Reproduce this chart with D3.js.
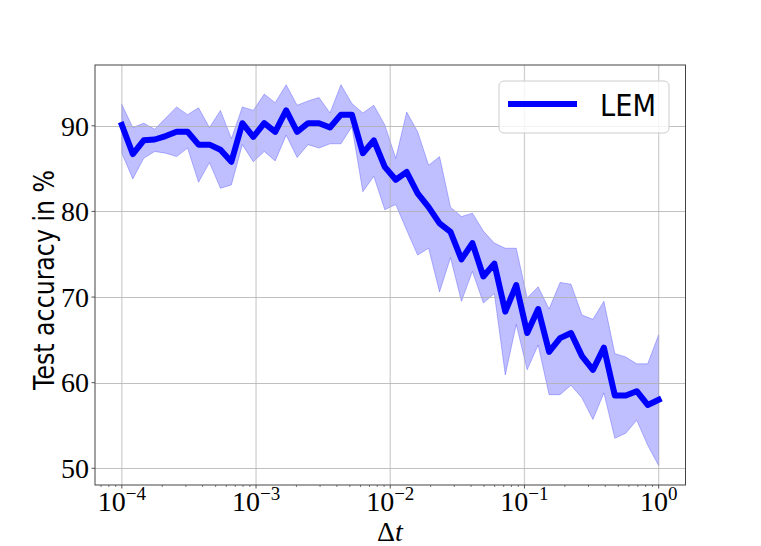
<!DOCTYPE html>
<html>
<head>
<meta charset="utf-8">
<script src="https://cdn.jsdelivr.net/npm/d3@7"></script>
<style>
  html, body { margin: 0; padding: 0; background: #fff; }
  svg { display: block; }
</style>
</head>
<body>
<svg id="chart" width="761" height="546"></svg>
<script>
// ---- data ----
const dt = [1.000e-4, 1.207e-4, 1.456e-4, 1.758e-4, 2.121e-4, 2.560e-4, 3.089e-4, 3.728e-4, 4.498e-4, 5.429e-4,
            6.551e-4, 7.906e-4, 9.541e-4, 1.151e-3, 1.389e-3, 1.677e-3, 2.024e-3, 2.442e-3, 2.947e-3, 3.556e-3,
            4.292e-3, 5.179e-3, 6.251e-3, 7.543e-3, 9.103e-3, 1.099e-2, 1.326e-2, 1.600e-2, 1.931e-2, 2.330e-2,
            2.812e-2, 3.393e-2, 4.095e-2, 4.942e-2, 5.964e-2, 7.197e-2, 8.685e-2, 1.048e-1, 1.265e-1, 1.526e-1,
            1.842e-1, 2.223e-1, 2.683e-1, 3.237e-1, 3.907e-1, 4.715e-1, 5.690e-1, 6.866e-1, 8.286e-1, 1.000];
const meanAcc = [90.1, 86.7, 88.3, 88.4, 88.8, 89.3, 89.3, 87.8, 87.8, 87.2,
                 85.8, 90.3, 88.7, 90.3, 89.3, 91.8, 89.3, 90.3, 90.3, 89.8,
                 91.3, 91.3, 86.8, 88.3, 85.2, 83.7, 84.6, 82.1, 80.5, 78.6,
                 77.6, 74.4, 76.3, 72.4, 73.9, 68.3, 71.4, 65.8, 68.6, 63.6,
                 65.2, 65.8, 63.1, 61.5, 64.1, 58.5, 58.5, 59.0, 57.4, 58.0];
const upperAcc = [92.5, 89.8, 90.3, 89.6, 90.9, 92.2, 91.3, 92.1, 89.8, 91.8,
                  88.5, 92.2, 91.8, 93.7, 92.7, 94.8, 92.4, 92.9, 93.3, 91.5,
                  94.8, 92.6, 91.5, 92.4, 90.1, 86.2, 91.6, 89.3, 85.4, 86.4,
                  80.5, 79.4, 79.8, 77.7, 76.3, 75.7, 75.7, 69.9, 71.2, 68.6,
                  71.7, 71.5, 67.9, 67.4, 69.5, 63.4, 63.0, 62.2, 62.2, 65.6];
const lowerAcc = [86.8, 83.8, 86.2, 87.0, 86.8, 86.4, 87.4, 83.4, 85.7, 82.7,
                  83.1, 87.8, 85.8, 87.0, 85.9, 88.9, 86.3, 87.8, 87.4, 87.9,
                  87.9, 89.9, 82.3, 84.1, 80.2, 80.8, 77.8, 74.9, 75.7, 70.6,
                  74.6, 69.5, 73.0, 69.3, 70.4, 60.9, 66.8, 61.5, 64.4, 58.6,
                  58.6, 59.7, 58.2, 55.7, 58.8, 53.5, 54.1, 55.6, 52.7, 50.3];
const xTicks = [1e-4, 1e-3, 1e-2, 1e-1, 1];
const xTickExp = ["\u22124", "\u22123", "\u22122", "\u22121", "0"];
const yTicks = [50, 60, 70, 80, 90];
const seriesName = "LEM";

// ---- layout ----
const L = 95, R = 685.5, T = 65, B = 485;
const svg = d3.select("#chart");
const x = d3.scaleLog().domain([Math.pow(10, -4.2), Math.pow(10, 0.2)]).range([L, R]);
const y = d3.scaleLinear().domain([48.05, 97.1]).range([B, T]);

const serif = "'Liberation Serif', 'DejaVu Serif', serif";
const sans = "'DejaVu Sans', 'Open Sans', sans-serif";

const rows = dt.map((d, i) => ({ x: d, m: meanAcc[i], u: upperAcc[i], l: lowerAcc[i] }));

svg.append("clipPath").attr("id", "plotclip")
  .append("rect").attr("x", L).attr("y", T).attr("width", R - L).attr("height", B - T);

// band
svg.append("path").datum(rows)
  .attr("clip-path", "url(#plotclip)")
  .attr("d", d3.area().x(d => x(d.x)).y0(d => y(d.l)).y1(d => y(d.u)))
  .attr("fill", "#0000ff").attr("fill-opacity", 0.25)
  .attr("stroke", "#0000ff").attr("stroke-opacity", 0.25).attr("stroke-width", 1);

// grid
const grid = svg.append("g");
grid.selectAll("line.gx").data(xTicks).join("line")
  .attr("x1", d => x(d)).attr("x2", d => x(d)).attr("y1", T).attr("y2", B)
  .attr("stroke", "#b0b0b0").attr("stroke-opacity", 0.6).attr("stroke-width", 1.3);
grid.selectAll("line.gy").data(yTicks).join("line")
  .attr("x1", L).attr("x2", R).attr("y1", d => Math.round(y(d)) + 0.5).attr("y2", d => Math.round(y(d)) + 0.5)
  .attr("stroke", "#b0b0b0").attr("stroke-opacity", 0.8).attr("stroke-width", 1);

// line
svg.append("path").datum(rows)
  .attr("d", d3.line().x(d => x(d.x)).y(d => y(d.m)))
  .attr("fill", "none").attr("stroke", "#0000ff").attr("stroke-width", 6)
  .attr("stroke-linejoin", "round").attr("stroke-linecap", "square");

// frame
svg.append("rect").attr("x", L).attr("y", T).attr("width", R - L).attr("height", B - T)
  .attr("fill", "none").attr("stroke", "#444").attr("stroke-width", 1);

// x ticks (major + minor)
const minor = [];
for (let e = -5; e <= 0; e++) for (let k = 2; k <= 9; k++) {
  const v = k * Math.pow(10, e);
  if (v >= x.domain()[0] && v <= x.domain()[1]) minor.push(v);
}
svg.selectAll("line.xmin").data(minor).join("line")
  .attr("x1", d => x(d)).attr("x2", d => x(d)).attr("y1", B).attr("y2", B + 2)
  .attr("stroke", "#444").attr("stroke-width", 0.7);
svg.selectAll("line.xmaj").data(xTicks).join("line")
  .attr("x1", d => x(d)).attr("x2", d => x(d)).attr("y1", B).attr("y2", B + 3.5)
  .attr("stroke", "#444").attr("stroke-width", 0.9);
const xl = svg.selectAll("text.xl").data(xTicks).join("text")
  .attr("x", d => x(d)).attr("y", 511)
  .attr("text-anchor", "middle")
  .attr("font-family", serif).attr("font-size", 28).attr("fill", "#000");
xl.append("tspan").text("10");
xl.append("tspan").attr("dy", -11).attr("font-size", 19).text((d, i) => xTickExp[i]);

// y ticks
svg.selectAll("line.ymaj").data(yTicks).join("line")
  .attr("x1", L - 3.5).attr("x2", L).attr("y1", d => y(d)).attr("y2", d => y(d))
  .attr("stroke", "#444").attr("stroke-width", 0.9);
svg.selectAll("text.yl").data(yTicks).join("text")
  .attr("x", L - 6).attr("y", d => y(d)).attr("dy", "0.35em")
  .attr("text-anchor", "end")
  .attr("font-family", serif).attr("font-size", 28).attr("fill", "#000")
  .text(d => d);

// axis titles
const xt = svg.append("text").attr("x", 390).attr("y", 541).attr("text-anchor", "middle")
  .attr("font-family", serif).attr("font-size", 28).attr("fill", "#000");
xt.append("tspan").text("\u0394");
xt.append("tspan").attr("font-style", "italic").text("t");

svg.append("text")
  .attr("transform", "translate(54,280) rotate(-90)")
  .attr("text-anchor", "middle")
  .attr("font-family", sans).attr("font-size", 29).attr("fill", "#000")
  .attr("textLength", 220).attr("lengthAdjust", "spacingAndGlyphs")
  .text("Test accuracy in %");

// legend
const lg = svg.append("g");
lg.append("rect").attr("x", 499).attr("y", 81).attr("width", 170).attr("height", 52).attr("rx", 5)
  .attr("fill", "#fff").attr("fill-opacity", 0.8).attr("stroke", "#cccccc").attr("stroke-width", 1);
lg.append("line").attr("x1", 508).attr("x2", 577).attr("y1", 104).attr("y2", 104)
  .attr("stroke", "#0000ff").attr("stroke-width", 6).attr("stroke-linecap", "butt");
lg.append("text").attr("x", 600).attr("y", 115.5)
  .attr("font-family", sans).attr("font-size", 30).attr("fill", "#000")
  .attr("textLength", 56).attr("lengthAdjust", "spacingAndGlyphs")
  .text(seriesName);
</script>
</body>
</html>
